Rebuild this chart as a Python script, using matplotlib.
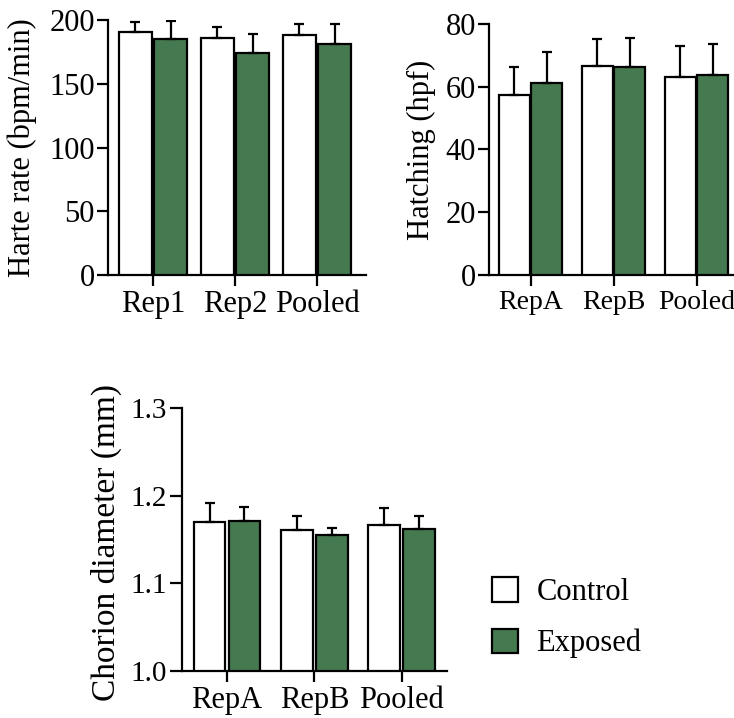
import numpy as np
from matplotlib import pyplot as plt
from matplotlib.patches import Patch

plt.rcParams['font.family'] = ['Liberation Serif', 'DejaVu Serif']

GREEN = '#457a50'

# heart rate
hr_groups = ['Rep1', 'Rep2', 'Pooled']
hr_control = [190.3, 186.1, 188.5]
hr_control_sd = [8.0, 8.7, 8.1]
hr_exposed = [185.1, 173.9, 181.4]
hr_exposed_sd = [14.4, 15.2, 15.4]

# hatching
hat_groups = ['RepA', 'RepB', 'Pooled']
hat_control = [57.3, 66.5, 63.0]
hat_control_sd = [8.9, 8.6, 9.9]
hat_exposed = [61.3, 66.3, 63.7]
hat_exposed_sd = [9.9, 9.1, 10.0]

# chorion diameter
ch_groups = ['RepA', 'RepB', 'Pooled']
ch_control = [1.1705, 1.1606, 1.1667]
ch_control_sd = [0.021, 0.0168, 0.020]
ch_exposed = [1.1713, 1.1553, 1.1622]
ch_exposed_sd = [0.0156, 0.0077, 0.015]


def bar_panel(ax, groups, ctrl, ctrl_sd, expo, expo_sd, width, off, bottom=0):
    x = np.arange(len(groups))
    err_kw = dict(ecolor='black', elinewidth=1.6, capsize=3.5, capthick=1.6)
    ax.bar(x - off, np.array(ctrl) - bottom, width, bottom=bottom, color='white',
           edgecolor='black', linewidth=1.6,
           yerr=[np.zeros(len(ctrl)), ctrl_sd], error_kw=err_kw, zorder=3)
    ax.bar(x + off, np.array(expo) - bottom, width, bottom=bottom, color=GREEN,
           edgecolor='black', linewidth=1.6,
           yerr=[np.zeros(len(expo)), expo_sd], error_kw=err_kw, zorder=3)
    ax.set_xticks(x)
    ax.set_xticklabels(groups)
    for s in ['top', 'right']:
        ax.spines[s].set_visible(False)
    for s in ['left', 'bottom']:
        ax.spines[s].set_linewidth(1.6)
    ax.tick_params(width=1.6, length=8, labelsize=22)
    ax.tick_params(axis='y', pad=1.5)
    ax.tick_params(axis='x', pad=3)


fig = plt.figure(figsize=(7.34, 7.18), dpi=100)

ax1 = fig.add_axes([0.147, 0.617, 0.352, 0.355])
bar_panel(ax1, hr_groups, hr_control, hr_control_sd, hr_exposed, hr_exposed_sd, 0.40, 0.215)
ax1.set_xlim(-0.549, 2.6)
ax1.set_ylim(0, 200)
ax1.set_yticks([0, 50, 100, 150, 200])
ax1.set_ylabel('Harte rate (bpm/min)', fontsize=22)
ax1.yaxis.set_label_coords(-0.275, 0.5)

ax2 = fig.add_axes([0.6662, 0.617, 0.3338, 0.3496])
bar_panel(ax2, hat_groups, hat_control, hat_control_sd, hat_exposed, hat_exposed_sd, 0.37, 0.195)
ax2.set_xlim(-0.502, 2.45)
ax2.set_ylim(0, 80)
ax2.set_yticks([0, 20, 40, 60, 80])
ax2.tick_params(axis='x', labelsize=20)
ax2.set_ylabel('Hatching (hpf)', fontsize=22)
ax2.yaxis.set_label_coords(-0.215, 0.5)

ax3 = fig.add_axes([0.2475, 0.0655, 0.361, 0.3658])
bar_panel(ax3, ch_groups, ch_control, ch_control_sd, ch_exposed, ch_exposed_sd, 0.36, 0.2, bottom=1.0)
ax3.set_xlim(-0.519, 2.515)
ax3.set_ylim(1.0, 1.3)
ax3.set_yticks([1.0, 1.1, 1.2, 1.3])
ax3.set_yticklabels(['1.0', '1.1', '1.2', '1.3'])
ax3.tick_params(axis='y', labelsize=21, length=9)
ax3.set_ylabel('Chorion diameter (mm)', fontsize=24)
ax3.yaxis.set_label_coords(-0.226, 0.49)

handles = [Patch(facecolor='white', edgecolor='black', linewidth=1.6),
           Patch(facecolor=GREEN, edgecolor='black', linewidth=1.6)]
fig.legend(handles, ['Control', 'Exposed'], loc='upper left',
           bbox_to_anchor=(0.633, 0.234), frameon=False, fontsize=22,
           handlelength=0.85, handleheight=0.85, handletextpad=0.6,
           labelspacing=0.7)

fig.savefig('out.png', dpi=100)
